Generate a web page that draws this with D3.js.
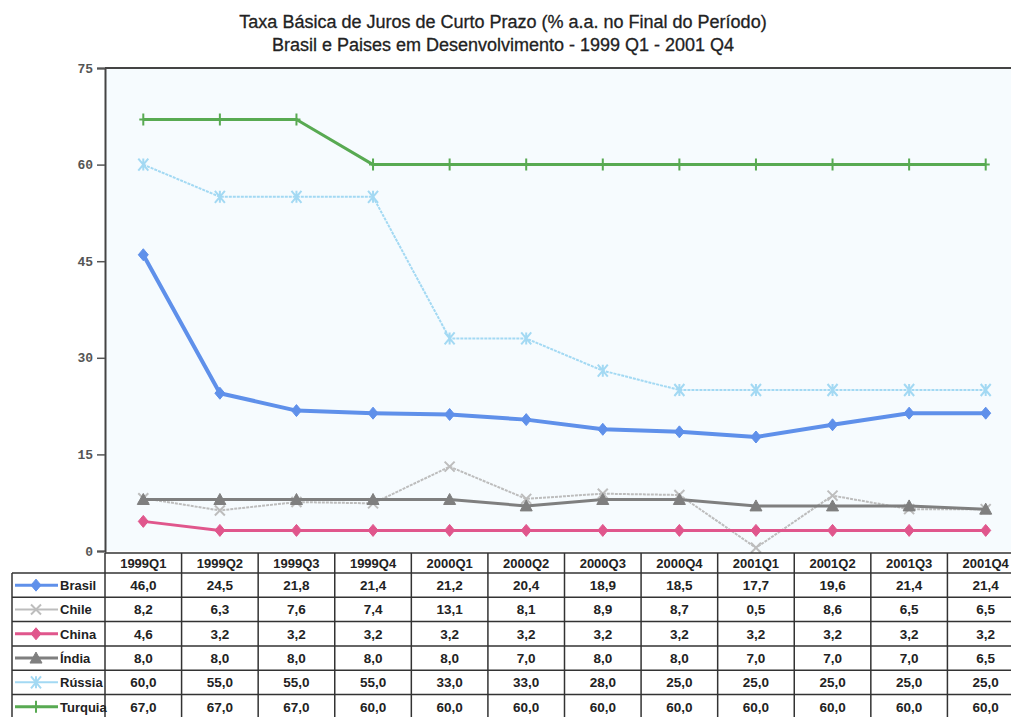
<!DOCTYPE html>
<html>
<head>
<meta charset="utf-8">
<script src="https://cdn.jsdelivr.net/npm/d3@7/dist/d3.min.js"></script>
<style>
  body { margin: 0; background: #ffffff; }
  svg { display: block; }
</style>
</head>
<body>
<svg id="chart"></svg>
<script>
const quarters = ["1999Q1", "1999Q2", "1999Q3", "1999Q4", "2000Q1", "2000Q2",
                  "2000Q3", "2000Q4", "2001Q1", "2001Q2", "2001Q3", "2001Q4"];
const brasil  = [46.0, 24.5, 21.8, 21.4, 21.2, 20.4, 18.9, 18.5, 17.7, 19.6, 21.4, 21.4];
const chile   = [8.2, 6.3, 7.6, 7.4, 13.1, 8.1, 8.9, 8.7, 0.5, 8.6, 6.5, 6.5];
const china   = [4.6, 3.2, 3.2, 3.2, 3.2, 3.2, 3.2, 3.2, 3.2, 3.2, 3.2, 3.2];
const india   = [8.0, 8.0, 8.0, 8.0, 8.0, 7.0, 8.0, 8.0, 7.0, 7.0, 7.0, 6.5];
const russia  = [60.0, 55.0, 55.0, 55.0, 33.0, 33.0, 28.0, 25.0, 25.0, 25.0, 25.0, 25.0];
const turquia = [67.0, 67.0, 67.0, 60.0, 60.0, 60.0, 60.0, 60.0, 60.0, 60.0, 60.0, 60.0];
const yTicks  = [0, 15, 30, 45, 60, 75];

const series = [
  {name: "Brasil",  values: brasil,  color: "#5f90ea", width: 4,   marker: "diamond",  dash: null},
  {name: "Chile",   values: chile,   color: "#bdbdbd", width: 2,   marker: "cross",    dash: "3,1"},
  {name: "China",   values: china,   color: "#e0568c", width: 3,   marker: "diamond",  dash: null},
  {name: "Índia",   values: india,   color: "#7f7f7f", width: 3,   marker: "triangle", dash: null},
  {name: "Rússia",  values: russia,  color: "#a3d9f3", width: 2,   marker: "star",     dash: "3,1"},
  {name: "Turquia", values: turquia, color: "#58aa52", width: 3,   marker: "plus",     dash: null}
];

const W = 1011, H = 717;
const plot = {left: 105, right: 1024, top: 68, bottom: 551};
const tableLeft = 12;
const headerH = 20, rowH = 24.3;

const svg = d3.select("#chart").attr("width", W).attr("height", H);

const x = d3.scaleBand().domain(quarters).range([plot.left, plot.right]);
const y = d3.scaleLinear().domain([0, 75]).range([plot.bottom, plot.top]);

// titulo
const title = svg.append("g")
  .attr("font-family", "Arial, 'Liberation Sans', sans-serif")
  .attr("font-size", 18)
  .attr("fill", "#222")
  .attr("stroke", "#222")
  .attr("stroke-width", 0.3)
  .attr("text-anchor", "middle");
title.append("text").attr("x", 503).attr("y", 28)
  .text("Taxa Básica de Juros de Curto Prazo (% a.a. no Final do Período)");
title.append("text").attr("x", 503).attr("y", 51)
  .text("Brasil e Paises em Desenvolvimento - 1999 Q1 - 2001 Q4");

// fundo da area do grafico
svg.append("rect")
  .attr("x", plot.left).attr("y", plot.top)
  .attr("width", plot.right - plot.left).attr("height", plot.bottom - plot.top)
  .attr("fill", "#f6fbfe");

svg.append("line")
  .attr("x1", plot.left).attr("x2", plot.right)
  .attr("y1", plot.top).attr("y2", plot.top)
  .attr("stroke", "#444").attr("stroke-width", 2);

// eixo y
svg.append("g")
  .attr("transform", `translate(${plot.left}, 0)`)
  .call(d3.axisLeft(y).tickValues(yTicks).tickSize(8).tickPadding(4))
  .call(g => g.select(".domain").attr("stroke", "#444").attr("stroke-width", 2))
  .call(g => g.selectAll(".tick line").attr("stroke", "#555").attr("stroke-width", 1.5))
  .call(g => g.selectAll(".tick text")
    .attr("font-family", "'Liberation Mono', 'DejaVu Sans Mono', monospace")
    .attr("font-weight", "bold")
    .attr("font-size", 13).attr("fill", "#555"));

// simbolos
function markerPath(type, cx, cy) {
  const s = 5;
  switch (type) {
    case "diamond":
      return `M${cx},${cy - s - 1}L${cx + s},${cy}L${cx},${cy + s + 1}L${cx - s},${cy}Z`;
    case "triangle":
      return `M${cx},${cy - s - 1}L${cx + s + 1},${cy + s}L${cx - s - 1},${cy + s}Z`;
    case "plus":
      return `M${cx},${cy - 6}L${cx},${cy + 6}M${cx - 4},${cy}L${cx + 4},${cy}`;
    case "cross":
      return `M${cx - 5},${cy - 5}L${cx + 5},${cy + 5}M${cx + 5},${cy - 5}L${cx - 5},${cy + 5}`;
    case "star":
      return `M${cx - 5},${cy - 6}L${cx + 5},${cy + 6}M${cx + 5},${cy - 6}L${cx - 5},${cy + 6}M${cx},${cy - 6}L${cx},${cy + 6}`;
  }
}
const filled = t => t === "diamond" || t === "triangle";

const line = d3.line()
  .x((d, i) => x(quarters[i]) + x.bandwidth() / 2)
  .y(d => y(d));

const lines = svg.append("g");
series.forEach(s => {
  const g = lines.append("g");
  g.append("path")
    .datum(s.values)
    .attr("fill", "none")
    .attr("stroke", s.color)
    .attr("stroke-width", s.width)
    .attr("stroke-dasharray", s.dash)
    .attr("stroke-linejoin", "round")
    .attr("d", line);
  g.selectAll("path.mk")
    .data(s.values)
    .join("path")
    .attr("class", "mk")
    .attr("d", (d, i) => markerPath(s.marker, x(quarters[i]) + x.bandwidth() / 2, y(d)))
    .attr("fill", filled(s.marker) ? s.color : "none")
    .attr("stroke", s.color)
    .attr("stroke-width", filled(s.marker) ? 1 : 2);
});

// tabela de dados
const table = svg.append("g")
  .attr("font-family", "Arial, 'Liberation Sans', sans-serif")
  .attr("font-weight", "bold")
  .attr("font-size", 13.5)
  .attr("fill", "#222");

const tableTop = plot.bottom + 2;
const tableBottom = tableTop + headerH + rowH * series.length;
const border = "#333";

table.append("rect")
  .attr("x", tableLeft).attr("y", tableTop + headerH)
  .attr("width", plot.right - tableLeft).attr("height", rowH * series.length)
  .attr("fill", "#ffffff");
table.append("rect")
  .attr("x", plot.left).attr("y", tableTop)
  .attr("width", plot.right - plot.left).attr("height", headerH)
  .attr("fill", "#ffffff");

// linhas horizontais
table.append("line")
  .attr("x1", plot.left).attr("x2", plot.right)
  .attr("y1", tableTop).attr("y2", tableTop)
  .attr("stroke", border).attr("stroke-width", 1.5);
d3.range(series.length + 1).forEach(i => {
  const yy = tableTop + headerH + i * rowH;
  table.append("line")
    .attr("x1", tableLeft).attr("x2", plot.right)
    .attr("y1", yy).attr("y2", yy)
    .attr("stroke", border).attr("stroke-width", 1.5);
});
// linhas verticais
table.append("line")
  .attr("x1", tableLeft).attr("x2", tableLeft)
  .attr("y1", tableTop + headerH).attr("y2", tableBottom)
  .attr("stroke", border).attr("stroke-width", 1.5);
quarters.forEach(q => {
  table.append("line")
    .attr("x1", x(q)).attr("x2", x(q))
    .attr("y1", tableTop).attr("y2", tableBottom)
    .attr("stroke", border).attr("stroke-width", 1.5);
});

// cabecalho
table.selectAll("text.hd")
  .data(quarters)
  .join("text")
  .attr("class", "hd")
  .attr("x", d => x(d) + x.bandwidth() / 2)
  .attr("y", tableTop + headerH / 2 + 4.5)
  .attr("text-anchor", "middle")
  .attr("font-size", 13)
  .text(d => d);

const fmt = v => d3.format(".1f")(v).replace(".", ",");

series.forEach((s, r) => {
  const cy = tableTop + headerH + r * rowH + rowH / 2;
  // legenda
  table.append("line")
    .attr("x1", tableLeft + 3).attr("x2", 58)
    .attr("y1", cy).attr("y2", cy)
    .attr("stroke", s.color).attr("stroke-width", Math.min(s.width, 3));
  table.append("path")
    .attr("d", markerPath(s.marker, 36, cy))
    .attr("fill", filled(s.marker) ? s.color : "none")
    .attr("stroke", s.color)
    .attr("stroke-width", filled(s.marker) ? 1 : 2);
  table.append("text")
    .attr("x", 60).attr("y", cy + 5)
    .attr("font-size", 13)
    .text(s.name);
  // valores
  table.selectAll(null)
    .data(s.values)
    .join("text")
    .attr("x", (d, i) => x(quarters[i]) + x.bandwidth() / 2)
    .attr("y", cy + 5)
    .attr("text-anchor", "middle")
    .text(d => fmt(d));
});
</script>
</body>
</html>
